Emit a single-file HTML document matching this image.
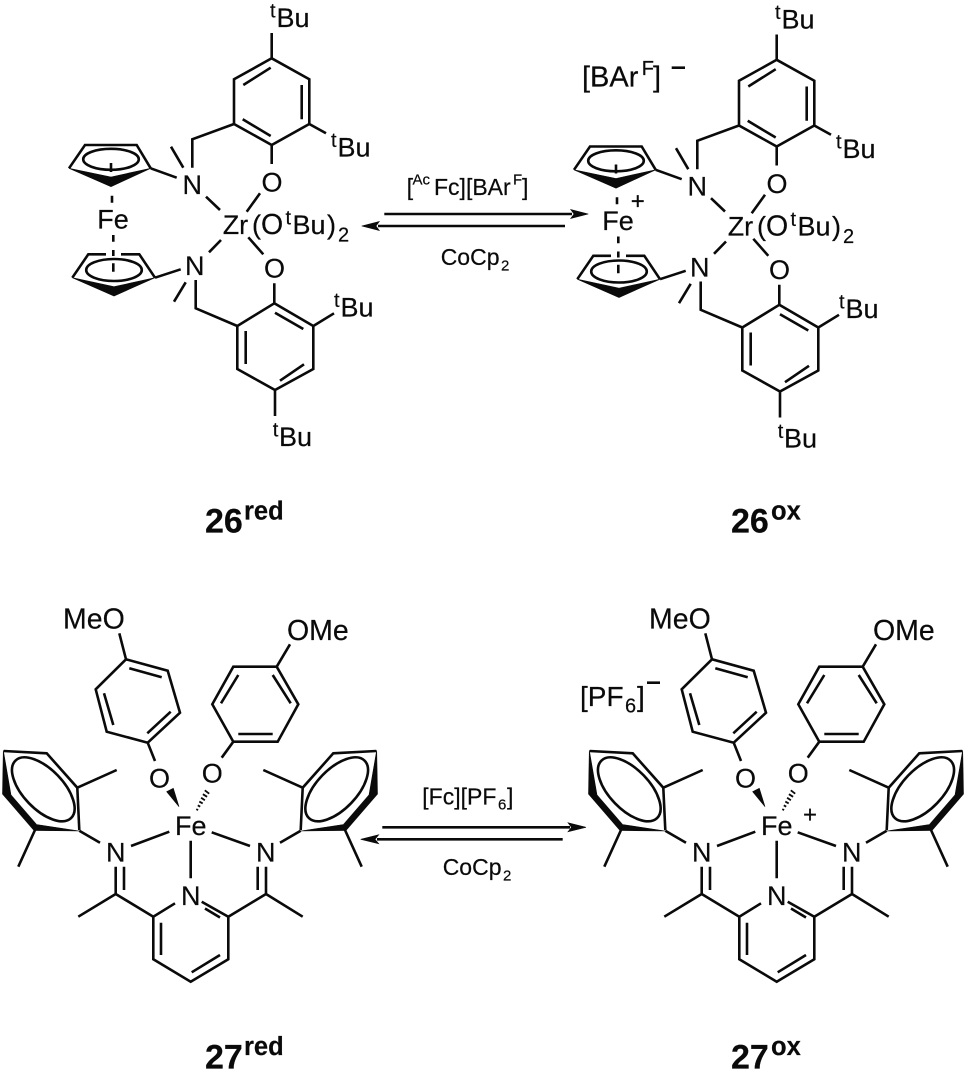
<!DOCTYPE html>
<html><head><meta charset="utf-8"><title>26 and 27 redox</title>
<style>
html,body{margin:0;padding:0;background:#fff}
svg{display:block;position:absolute;left:0;top:0}
text{font-family:"Liberation Sans",sans-serif;fill:#0a0a0a;stroke:#0a0a0a;stroke-width:.2;font-size:27px}
.s{font-size:20px}
.m{font-size:23px}
.ms{font-size:15px}
.p{font-size:24px}
.b{font-weight:bold;font-size:34px}
.bs{font-weight:bold;font-size:25.5px}
.o{font-size:28.5px}
.l{font-size:29px}
.k{font-size:28px}
path,ellipse,line{fill:none;stroke:#0a0a0a;stroke-width:2.6;stroke-linejoin:miter;stroke-linecap:butt}
.f{fill:#0a0a0a;stroke:#0a0a0a;stroke-width:.6}
.h{stroke-width:1.8}
</style></head><body>
<svg width="970" height="1072" viewBox="0 0 970 1072" xmlns="http://www.w3.org/2000/svg">

<!-- 26 red -->
<g>
<path d="M271.7 33V58.3L309.3 79.3V124L271.7 145L234 124V79.3L271.7 58.3M243.3 85L270.7 67.7M301.7 85V119.3M242.7 119.3L270.7 136M309.3 124L326 133.3M271.7 145V164M234 124L192.3 139.3V167.7M171 146.7L183.3 167.7M150.7 168.3L176.7 177.7M206 196.7L220 210M260 193.3L246.7 211.7"/>
<path d="M69 168.3L85 145H136.7L150.7 168.3"/>
<path class="f" d="M69 168.3L111 186.7L150.7 168.3L111 177Z"/>
<ellipse cx="111" cy="159.3" rx="27.8" ry="10.5"/>
<path d="M111 163V172M112 195.7V202.7"/>
<path d="M113.3 235V241.7M113.3 250V256M113.3 263.3V271.7"/>
<path d="M72.3 277.7L88.3 254.3H106M121 254.3H139.3L155 277.7"/>
<path class="f" d="M72.3 277.7L114 296L155 277.7L114 286.7Z"/>
<ellipse cx="114" cy="270" rx="27.8" ry="11"/>
<path d="M155 277.7L180.7 269.3M209 252.3L221 240M248.3 237.3L263.3 254.3M274.3 283.3V303.3L313.3 326V369L275 390L237.3 369V326L274.3 303.3M275 312.7L303.3 329M245.7 331V364M280 380.7L304 364.3M237.3 326L195.7 308.3V280M185.7 282.3L174 301.7M313.3 326L334 313.3M275 390V416"/>
<text class="s" x="270" y="17.5">t</text><text x="276.5" y="27">Bu</text>
<text class="s" x="331" y="147">t</text><text x="337.5" y="156.5">Bu</text>
<text x="261.5" y="191.5">O</text>
<text x="182.5" y="194">N</text>
<text x="97.3" y="228.3">Fe</text>
<text x="222.7" y="234">Zr</text><text x="252" y="234">(</text><text class="o" x="261" y="234">O</text><text class="s" x="285.5" y="224.5">t</text><text x="292.5" y="234">Bu</text><text x="327" y="234">)</text><text class="s" x="338" y="241.7">2</text>
<text x="185" y="275">N</text>
<text x="264" y="277.3">O</text>
<text class="s" x="334" y="307">t</text><text x="340.5" y="316.7">Bu</text>
<text class="s" x="272.7" y="436.5">t</text><text x="279" y="446">Bu</text>
<text class="b" x="205" y="532.7">26</text><text class="bs" x="244" y="519.3">red</text>
</g>

<!-- arrows 26 -->
<path d="M384.3 214H572"/>
<path class="f" d="M588.3 214L570.7 209.5L574 214L570.7 218.5Z"/>
<path d="M565 226H378"/>
<path class="f" d="M361.7 226L379.3 221.5L376 226L379.3 230.5Z"/>
<text class="m" x="406.7" y="195">[</text><text class="ms" x="412.5" y="184.5">Ac</text><text class="m" x="434" y="195">Fc][BAr</text><text class="ms" x="513" y="184.5">F</text><text class="m" x="522" y="195">]</text>
<text class="m" x="440.7" y="265">CoCp</text><text class="ms" x="501" y="270.5">2</text>

<!-- 26 ox -->
<g transform="translate(505,1.5)">
<path d="M271.7 33V58.3L309.3 79.3V124L271.7 145L234 124V79.3L271.7 58.3M243.3 85L270.7 67.7M301.7 85V119.3M242.7 119.3L270.7 136M309.3 124L326 133.3M271.7 145V164M234 124L192.3 139.3V167.7M171 146.7L183.3 167.7M150.7 168.3L176.7 177.7M206 196.7L220 210M260 193.3L246.7 211.7"/>
<path d="M69 168.3L85 145H136.7L150.7 168.3"/>
<path class="f" d="M69 168.3L111 186.7L150.7 168.3L111 177Z"/>
<ellipse cx="111" cy="159.3" rx="27.8" ry="10.5"/>
<path d="M111 163V172M112 195.7V202.7"/>
<path d="M113.3 235V241.7M113.3 250V256M113.3 263.3V271.7"/>
<path d="M72.3 277.7L88.3 254.3H106M121 254.3H139.3L155 277.7"/>
<path class="f" d="M72.3 277.7L114 296L155 277.7L114 286.7Z"/>
<ellipse cx="114" cy="270" rx="27.8" ry="11"/>
<path d="M155 277.7L180.7 269.3M209 252.3L221 240M248.3 237.3L263.3 254.3M274.3 283.3V303.3L313.3 326V369L275 390L237.3 369V326L274.3 303.3M275 312.7L303.3 329M245.7 331V364M280 380.7L304 364.3M237.3 326L195.7 308.3V280M185.7 282.3L174 301.7M313.3 326L334 313.3M275 390V416"/>
<text class="s" x="270" y="17.5">t</text><text x="276.5" y="27">Bu</text>
<text class="s" x="331" y="147">t</text><text x="337.5" y="156.5">Bu</text>
<text x="261.5" y="191.5">O</text>
<text x="182.5" y="194">N</text>
<text x="97.3" y="228.3">Fe</text>
<text class="p" x="125.7" y="207.5">+</text>
<text x="222.7" y="234">Zr</text><text x="252" y="234">(</text><text class="o" x="261" y="234">O</text><text class="s" x="285.5" y="224.5">t</text><text x="292.5" y="234">Bu</text><text x="327" y="234">)</text><text class="s" x="338" y="241.7">2</text>
<text x="185" y="275">N</text>
<text x="264" y="277.3">O</text>
<text class="s" x="334" y="307">t</text><text x="340.5" y="316.7">Bu</text>
<text class="s" x="272.7" y="436.5">t</text><text x="279" y="446">Bu</text>
</g>
<text class="b" x="731" y="532.5">26</text><text class="bs" x="771" y="519.3">ox</text>
<text class="l" x="582" y="86.7">[BAr</text><text class="s" x="641.7" y="75">F</text><text class="l" x="653" y="86.7">]</text>
<path d="M671.7 67.7H685"/>

<!-- 27 red -->
<g>
<path d="M119.3 633.3L126 659.3L167.7 670.7L180 712.7L147.7 742.7L106.7 731.7L95.7 689.3L126 659.3M129.3 668.3L161.7 677.3M170.7 711.7L147.3 733.3M104 693.3L113.3 725M147.7 742.7L155 761"/>
<path class="f" d="M166.7 791.7L173.3 788.3L179 806.7Z"/>
<path class="h" d="M196.3 809.1L198.1 810.1M197.8 805.3L200.2 806.7M199.3 801.6L202.7 803.4M201.1 797.7L204.9 800.3M202.9 794.2L207.1 796.8M204.8 790.3L209.2 793.7"/>
<path d="M221.7 757.7L233.3 741.7H277.7L298.3 704.3L276.7 666.7H233.3L212.3 704.3L233.3 741.7M238.3 734H272.7M272.7 675L290.7 703.3M238.3 675L221 703.3M276.7 666.7L290 644.3"/>
<path d="M3.8 751L46.7 753.3L77.3 787.7L79.3 830M77.3 787.7L116.7 770M35 830L18.3 866.7M79.3 830.7L100 842.7"/>
<path class="f" d="M3.3 750.3L2.5 794L34 830.5L79.3 831L36.5 824.5L11 795Z"/>
<ellipse cx="43.3" cy="789.3" rx="40" ry="20" transform="rotate(46 43.3 789.3)"/>
<g transform="translate(380,0) scale(-1,1)">
<path d="M3.8 751L46.7 753.3L77.3 787.7L79.3 830M77.3 787.7L116.7 770M35 830L18.3 866.7M79.3 830.7L100 842.7"/>
<path class="f" d="M3.3 750.3L2.5 794L34 830.5L79.3 831L36.5 824.5L11 795Z"/>
<ellipse cx="43.3" cy="789.3" rx="40" ry="20" transform="rotate(46 43.3 789.3)"/>
</g>
<path d="M131 846L169.3 831.7M211.7 832.3L250 846M190.7 840.7V878.3M115.7 866.7V894M124 866.7V890M115.7 894L78.3 916.7M115.7 894L153.3 916.7L175 903.3M153.3 916.7V959.3L190.7 981.7L228.3 959.3V916.7L201.7 901.7M161 922.7V955M191.7 972.3L220 955M205 908.5L220 917.5M266 866.7V894M257.7 866.7V890M266 894L302.7 916.7M266 894L228.3 916.7"/>
<text class="o" x="63" y="628.3">MeO</text>
<text class="o" x="287" y="640">OMe</text>
<text x="149" y="787.3">O</text>
<text x="201.7" y="782.7">O</text>
<text x="175" y="835">Fe</text>
<text x="106" y="861.7">N</text>
<text x="256" y="861.7">N</text>
<text x="181" y="905">N</text>
<text class="b" x="205" y="1068.3">27</text><text class="bs" x="244" y="1055">red</text>
</g>

<!-- arrows 27 -->
<path d="M382.3 827.3H570"/>
<path class="f" d="M586 827.3L568 822.8L571.5 827.3L568 831.8Z"/>
<path d="M562.7 839.3H377"/>
<path class="f" d="M360.7 839.3L378.7 834.8L375 839.3L378.7 843.8Z"/>
<text class="m" x="422.3" y="804.3">[Fc][PF</text><text class="ms" x="498" y="809.5">6</text><text class="m" x="507" y="804.3">]</text>
<text class="m" x="442.7" y="875">CoCp</text><text class="ms" x="503" y="880.5">2</text>

<!-- 27 ox -->
<g transform="translate(586,0)">
<path d="M119.3 633.3L126 659.3L167.7 670.7L180 712.7L147.7 742.7L106.7 731.7L95.7 689.3L126 659.3M129.3 668.3L161.7 677.3M170.7 711.7L147.3 733.3M104 693.3L113.3 725M147.7 742.7L155 761"/>
<path class="f" d="M166.7 791.7L173.3 788.3L179 806.7Z"/>
<path class="h" d="M196.3 809.1L198.1 810.1M197.8 805.3L200.2 806.7M199.3 801.6L202.7 803.4M201.1 797.7L204.9 800.3M202.9 794.2L207.1 796.8M204.8 790.3L209.2 793.7"/>
<path d="M221.7 757.7L233.3 741.7H277.7L298.3 704.3L276.7 666.7H233.3L212.3 704.3L233.3 741.7M238.3 734H272.7M272.7 675L290.7 703.3M238.3 675L221 703.3M276.7 666.7L290 644.3"/>
<path d="M3.8 751L46.7 753.3L77.3 787.7L79.3 830M77.3 787.7L116.7 770M35 830L18.3 866.7M79.3 830.7L100 842.7"/>
<path class="f" d="M3.3 750.3L2.5 794L34 830.5L79.3 831L36.5 824.5L11 795Z"/>
<ellipse cx="43.3" cy="789.3" rx="40" ry="20" transform="rotate(46 43.3 789.3)"/>
<g transform="translate(380,0) scale(-1,1)">
<path d="M3.8 751L46.7 753.3L77.3 787.7L79.3 830M77.3 787.7L116.7 770M35 830L18.3 866.7M79.3 830.7L100 842.7"/>
<path class="f" d="M3.3 750.3L2.5 794L34 830.5L79.3 831L36.5 824.5L11 795Z"/>
<ellipse cx="43.3" cy="789.3" rx="40" ry="20" transform="rotate(46 43.3 789.3)"/>
</g>
<path d="M131 846L169.3 831.7M211.7 832.3L250 846M190.7 840.7V878.3M115.7 866.7V894M124 866.7V890M115.7 894L78.3 916.7M115.7 894L153.3 916.7L175 903.3M153.3 916.7V959.3L190.7 981.7L228.3 959.3V916.7L201.7 901.7M161 922.7V955M191.7 972.3L220 955M205 908.5L220 917.5M266 866.7V894M257.7 866.7V890M266 894L302.7 916.7M266 894L228.3 916.7"/>
<text class="o" x="63" y="628.3">MeO</text>
<text class="o" x="287" y="640">OMe</text>
<text x="149" y="787.3">O</text>
<text x="201.7" y="782.7">O</text>
<text x="175" y="835">Fe</text>
<text class="p" x="217" y="822.5">+</text>
<text x="106" y="861.7">N</text>
<text x="256" y="861.7">N</text>
<text x="181" y="905">N</text>
</g>
<text class="b" x="731" y="1068.3">27</text><text class="bs" x="771" y="1055">ox</text>
<text class="k" x="580" y="706">[PF</text><text class="s" x="625" y="712.3">6</text><text class="k" x="637" y="706">]</text>
<path d="M647 682.7H660"/>
</svg>
</body></html>
